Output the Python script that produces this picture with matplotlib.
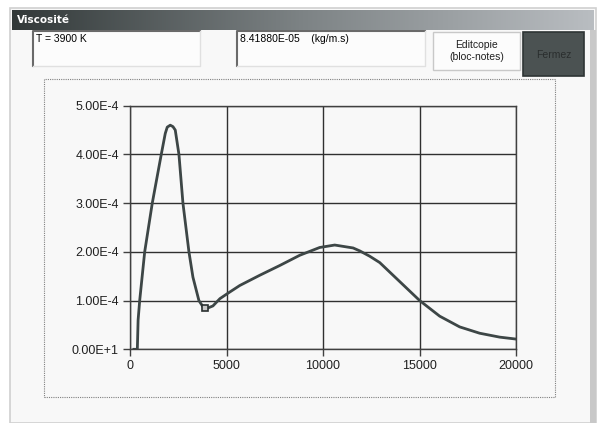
import numpy as np
from matplotlib import pyplot as plt
from matplotlib.patches import Rectangle
from matplotlib.colors import LinearSegmentedColormap

# Viscosité en fonction de la température
temperature = [200, 380, 420, 502, 761, 1154, 1620, 1827, 1930, 2086, 2226, 2345, 2536,
               2743, 3054, 3261, 3571, 3866, 4296, 4660, 5072, 5690, 6725, 7760, 8795,
               9830, 10607, 11560, 11905, 12422, 12940, 13975, 15010, 16046, 17081,
               18116, 19151, 20000]
viscosite = [0.0, 0.0, 0.6e-4, 1.0e-4, 2.0e-4, 3.0e-4, 4.0e-4, 4.43e-4, 4.56e-4, 4.6e-4,
             4.57e-4, 4.5e-4, 4.0e-4, 3.0e-4, 2.0e-4, 1.48e-4, 1.0e-4, 0.82e-4, 0.89e-4,
             1.04e-4, 1.15e-4, 1.31e-4, 1.52e-4, 1.72e-4, 1.93e-4, 2.09e-4, 2.14e-4,
             2.08e-4, 2.02e-4, 1.91e-4, 1.78e-4, 1.39e-4, 1.0e-4, 0.68e-4, 0.46e-4,
             0.33e-4, 0.25e-4, 0.21e-4]
t_sel = 3900
visc_sel = 8.41880e-05

x_ticks = [0, 5000, 10000, 15000, 20000]
y_ticks = [0, 1e-4, 2e-4, 3e-4, 4e-4, 5e-4]
y_labels = ["0.00E+1", "1.00E-4", "2.00E-4", "3.00E-4", "4.00E-4", "5.00E-4"]

W, H = 599, 423
FONT = "Liberation Sans"


def fx(x):
    return x / W


def fy(y):
    return 1 - y / H


def rect(fig, x0, y0, x1, y1, zorder=-5, **kw):
    r = Rectangle((fx(x0), fy(y1)), fx(x1) - fx(x0), fy(y0) - fy(y1),
                  transform=fig.transFigure, zorder=zorder, **kw)
    fig.add_artist(r)
    return r


def sunken_box(fig, x0, y0, x1, y1):
    rect(fig, x0, y0, x1, y1, facecolor="#fcfcfc", edgecolor="none")
    fig.add_artist(plt.Line2D([fx(x0), fx(x0), fx(x1)], [fy(y1), fy(y0), fy(y0)],
                              transform=fig.transFigure, color="#6a6a6a", lw=1.5, zorder=-4))
    fig.add_artist(plt.Line2D([fx(x0), fx(x1), fx(x1)], [fy(y1), fy(y1), fy(y0)],
                              transform=fig.transFigure, color="#e0e0e0", lw=1.0, zorder=-4))


fig = plt.figure(figsize=(W / 100, H / 100), dpi=100)
fig.patch.set_facecolor("white")

# fenêtre
rect(fig, 10, 8, 596, 423, facecolor="#f8f8f8", edgecolor="#d0d0d0", lw=1.2, zorder=-10)
rect(fig, 590, 30, 596, 423, facecolor="#c8c8c8", edgecolor="none", zorder=-9)

# barre de titre dégradée
ax_t = fig.add_axes([fx(12), fy(30), fx(594) - fx(12), fy(10) - fy(30)])
grad = np.linspace(0, 1, 256).reshape(1, -1)
cmap = LinearSegmentedColormap.from_list("t", ["#323939", "#7d8385", "#b9bdc1"])
ax_t.imshow(grad, aspect="auto", cmap=cmap, extent=[0, 1, 0, 1])
ax_t.set_axis_off()
fig.text(fx(17), fy(20), "Viscosité", color="white", fontsize=7.5, fontweight="bold",
         family="DejaVu Sans", va="center", ha="left")

# zones de texte
sunken_box(fig, 33, 31, 200, 66)
fig.text(fx(36), fy(38.5), "T = %d K" % t_sel, fontsize=7.5, family=FONT, va="center")
sunken_box(fig, 237, 31, 425, 66)
fig.text(fx(240), fy(38.5), "%.5E    (kg/m.s)" % visc_sel, fontsize=7.5, family=FONT,
         va="center")

# boutons
rect(fig, 433, 32, 520, 70, facecolor="#fcfcfc", edgecolor="#c8c8c8", lw=1)
fig.text(fx(476.5), fy(51), "Editcopie\n(bloc-notes)", fontsize=7.5, family=FONT,
         ha="center", va="center", color="#202020", linespacing=1.2)
rect(fig, 523, 32, 584, 76, facecolor="#4b5252", edgecolor="#2e3434", lw=1.2)
fig.text(fx(553.5), fy(55), "Fermez", fontsize=7.5, family=FONT, ha="center",
         va="center", color="#2a2e2e")

# cadre pointillé
rect(fig, 44, 79, 555, 397, facecolor="none", edgecolor="#808080", lw=0.8,
     linestyle=(0, (1, 1)), zorder=-3)

# graphique
ax = fig.add_axes([fx(130), fy(349.3), fx(516) - fx(130), fy(105.7) - fy(349.3)])
ax.set_facecolor("#f8f8f8")
ax.plot(temperature, viscosite, color="#3d4646", lw=2.0, solid_joinstyle="round")
ax.plot([t_sel], [visc_sel], marker="s", ms=5, mfc="#c8c8c8", mec="#2a3030", mew=1.2,
        ls="none")
ax.set_xlim(0, 20000)
ax.set_ylim(0, 5e-4)
ax.set_xticks(x_ticks)
ax.set_xticklabels([str(v) for v in x_ticks])
ax.set_yticks(y_ticks)
ax.set_yticklabels(y_labels)
ax.grid(True, color="#303030", lw=1.0)
ax.set_axisbelow(True)
for s in ax.spines.values():
    s.set_color("#404040")
    s.set_linewidth(1.0)
ax.tick_params(direction="out", length=5, width=1.0, color="#404040",
               labelsize=9, labelcolor="#202020", pad=3)
for lab in ax.get_xticklabels() + ax.get_yticklabels():
    lab.set_family(FONT)

fig.savefig("out.png", dpi=100)
